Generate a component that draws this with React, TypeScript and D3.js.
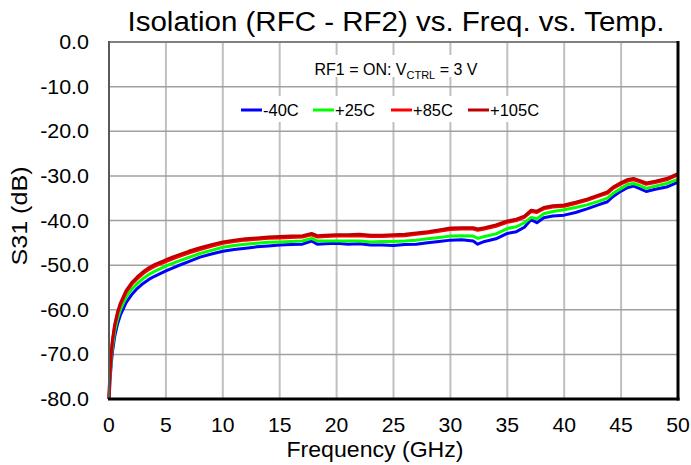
import React from "react";
import * as d3 from "d3";

const freq = [0, 0.05, 0.1, 0.2, 0.3, 0.5, 0.75, 1, 1.5, 2, 2.5, 3, 3.5, 4, 5, 6, 7, 8, 9, 10, 11, 12, 13, 14, 15, 16, 17, 17.8, 18.3, 19, 20, 21, 22, 23, 24, 25, 26, 27, 28, 29, 30, 31, 32, 32.4, 33, 34, 35, 35.8, 36.5, 37.1, 37.6, 38.2, 39, 40, 41, 42, 43, 43.8, 44.3, 45, 45.6, 46.1, 46.6, 47.2, 48, 49, 50];

const sM40 = [-80, -78, -75.5, -72, -69.5, -66, -63.2, -61.2, -58.4, -56.6, -55.2, -54.1, -53.2, -52.5, -51.3, -50.2, -49.2, -48.2, -47.5, -46.9, -46.5, -46.2, -45.9, -45.7, -45.5, -45.4, -45.3, -44.6, -45.3, -45.2, -45.1, -45.3, -45.2, -45.5, -45.5, -45.6, -45.4, -45.3, -45.0, -44.7, -44.4, -44.3, -44.6, -45.3, -44.7, -44.1, -42.9, -42.5, -41.5, -39.8, -40.5, -39.4, -39.0, -38.8, -38.2, -37.4, -36.5, -35.8, -34.6, -33.4, -32.6, -32.3, -32.8, -33.5, -33.0, -32.5, -31.4];

const sP25 = [-80, -77, -74.5, -70.8, -68.3, -64.8, -62, -60, -57.2, -55.4, -54.1, -53.0, -52.1, -51.4, -50.2, -49.2, -48.3, -47.4, -46.7, -46.0, -45.6, -45.3, -45.1, -44.9, -44.8, -44.7, -44.6, -44.0, -44.6, -44.6, -44.6, -44.6, -44.6, -44.8, -44.7, -44.7, -44.6, -44.4, -44.1, -43.8, -43.5, -43.4, -43.5, -44.0, -43.6, -43.0, -41.8, -41.4, -40.5, -39.3, -39.6, -38.5, -38.0, -37.6, -37.1, -36.5, -35.7, -35.0, -33.9, -32.8, -31.9, -31.7, -32.1, -32.8, -32.3, -31.7, -30.8];

const sP85 = [-80, -76, -73.5, -69.8, -67.2, -63.7, -60.9, -58.9, -56.1, -54.3, -53.0, -51.9, -51.0, -50.3, -49.2, -48.2, -47.3, -46.5, -45.8, -45.1, -44.7, -44.4, -44.2, -44.0, -43.9, -43.8, -43.7, -43.2, -43.7, -43.6, -43.5, -43.5, -43.4, -43.6, -43.6, -43.5, -43.4, -43.1, -42.8, -42.4, -42.0, -41.9, -41.9, -42.2, -41.9, -41.3, -40.4, -40.0, -39.3, -38.0, -38.2, -37.4, -37.0, -36.8, -36.2, -35.5, -34.6, -33.9, -32.8, -31.8, -31.1, -30.9, -31.3, -31.9, -31.5, -30.9, -29.8];

const sP105 = [-80, -75.6, -73.1, -69.4, -66.8, -63.3, -60.5, -58.5, -55.7, -53.9, -52.6, -51.5, -50.6, -49.9, -48.8, -47.8, -46.9, -46.1, -45.4, -44.8, -44.4, -44.1, -43.9, -43.7, -43.6, -43.5, -43.4, -42.9, -43.4, -43.3, -43.2, -43.2, -43.1, -43.3, -43.3, -43.2, -43.1, -42.8, -42.5, -42.1, -41.7, -41.6, -41.6, -41.9, -41.6, -41.0, -40.1, -39.7, -39.0, -37.7, -37.9, -37.1, -36.7, -36.5, -35.9, -35.2, -34.3, -33.6, -32.5, -31.5, -30.8, -30.6, -31.0, -31.6, -31.2, -30.6, -29.5];

const seriesNames = ["-40C", "+25C", "+85C", "+105C"];
const seriesColors = ["#0000ff", "#00ff00", "#ff0000", "#c00000"];
const seriesValues = [sM40, sP25, sP85, sP105];

const xTicks = [0, 5, 10, 15, 20, 25, 30, 35, 40, 45, 50];
const yTicks = [0, -10, -20, -30, -40, -50, -60, -70, -80];

const titleText = "Isolation (RFC - RF2) vs. Freq. vs. Temp.";
const xTitle = "Frequency (GHz)";
const yTitle = "S31 (dB)";

const W = 691, H = 465;
const L = 109, R = 678, T = 42, B = 399;
const FONT = "Liberation Sans, Arial, sans-serif";

export default function App() {
  const x = d3.scaleLinear().domain([0, 50]).range([L, R]);
  const y = d3.scaleLinear().domain([-80, 0]).range([B, T]);
  const line = d3.line<[number, number]>().x(d => x(d[0])).y(d => y(d[1])).curve(d3.curveLinear);

  const legendX = [241, 313, 391, 468];

  return (
    <svg width={W} height={H} style={{ position: "absolute", left: 0, top: 0, background: "#fff" }} fontFamily={FONT}>
      <rect x={0} y={0} width={W} height={H} fill="#fff" />
      {xTicks.map(t => (
        <line key={"vx" + t} x1={x(t)} x2={x(t)} y1={T} y2={B} stroke="#c0c0c0" strokeWidth={2} />
      ))}
      {yTicks.map(t => (
        <line key={"hy" + t} x1={L} x2={R} y1={y(t)} y2={y(t)} stroke="#a0a0a0" strokeWidth={1.5} />
      ))}
      <rect x={305} y={55} width={180} height={22} fill="#fff" />
      <text x={396} y={75} textAnchor="middle" fontSize={16} fill="#000">
        RF1 = ON: V<tspan fontSize={11} dy={4}>CTRL</tspan><tspan dy={-4}> = 3 V</tspan>
      </text>
      <rect x={236} y={96} width={310} height={26} fill="#fff" />
      {seriesNames.map((n, i) => (
        <g key={n}>
          <line x1={legendX[i]} x2={legendX[i] + 21} y1={110} y2={110} stroke={seriesColors[i]} strokeWidth={3} />
          <text x={legendX[i] + 22} y={116} fontSize={16.5} fill="#000">{n}</text>
        </g>
      ))}
      {seriesValues.map((vals, i) => (
        <path key={seriesNames[i]} d={line(freq.map((f, j) => [f, vals[j]]) as [number, number][]) || ""} fill="none" stroke={seriesColors[i]} strokeWidth={3} strokeLinejoin="round" />
      ))}
      <line x1={L} x2={R} y1={T} y2={T} stroke="#808080" strokeWidth={2} />
      <line x1={L} x2={L} y1={T - 1} y2={B} stroke="#595959" strokeWidth={2} />
      <line x1={R} x2={R} y1={T - 1} y2={B + 1.5} stroke="#000" strokeWidth={3} />
      <line x1={L - 1} x2={R + 1.5} y1={B} y2={B} stroke="#000" strokeWidth={3} />
      {yTicks.map(t => (
        <text key={"yl" + t} transform={`translate(89,${y(t) + 7}) scale(1.1,1)`} textAnchor="end" fontSize={19.5} fill="#000">{t.toFixed(1)}</text>
      ))}
      {xTicks.map(t => (
        <text key={"xl" + t} transform={`translate(${x(t)},431.5) scale(1.06,1)`} textAnchor="middle" fontSize={20} fill="#000">{t}</text>
      ))}
      <text x={375} y={457} textAnchor="middle" fontSize={22} fill="#000" textLength={177} lengthAdjust="spacingAndGlyphs">{xTitle}</text>
      <text transform={`translate(27,216) rotate(-90)`} textAnchor="middle" fontSize={22} fill="#000" textLength={99} lengthAdjust="spacingAndGlyphs">{yTitle}</text>
      <text x={396} y={31} textAnchor="middle" fontSize={27} fill="#000" textLength={537} lengthAdjust="spacingAndGlyphs">{titleText}</text>
    </svg>
  );
}
